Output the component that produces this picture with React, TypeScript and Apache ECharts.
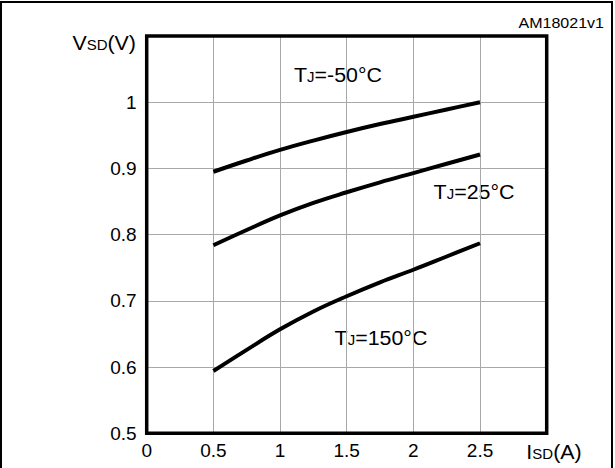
import React, { useEffect, useRef } from "react";
import * as echarts from "echarts";

const xValues = [0.5, 0.75, 1, 1.25, 1.5, 1.75, 2, 2.25, 2.5];
const vMinus50 = [0.895, 0.912, 0.928, 0.942, 0.955, 0.967, 0.978, 0.989, 1.0];
const v25 = [0.784, 0.807, 0.829, 0.848, 0.864, 0.879, 0.893, 0.907, 0.921];
const v150 = [0.594, 0.626, 0.657, 0.684, 0.707, 0.728, 0.747, 0.767, 0.787];
const xTickMax = 2.5;
const yTickMax = 1.0;

const FONT = "'Liberation Sans', Arial, Helvetica, sans-serif";
const STRETCH = 1.07;

function pairs(ys: number[]) {
  return xValues.map((x, i) => [x, ys[i]]);
}

function labelText(name: string, sub: string, rest: string) {
  return {
    text: `{a|${name}}{b|${sub}}{a|${rest}}`,
    rich: {
      a: { fontSize: 20, fontFamily: FONT, fill: "#000", lineHeight: 22, verticalAlign: "bottom" },
      b: { fontSize: 14, fontFamily: FONT, fill: "#000", lineHeight: 16, verticalAlign: "bottom", padding: [0, 0, 1, 0] },
    },
  };
}

export default function App() {
  const ref = useRef<HTMLDivElement>(null);
  useEffect(() => {
    if (!ref.current) return;
    const chart = echarts.init(ref.current, undefined, { renderer: "svg" });
    const lineSeries = (name: string, ys: number[]) => ({
      name,
      type: "line",
      data: pairs(ys),
      smooth: 0.4,
      showSymbol: false,
      symbol: "none",
      lineStyle: { color: "#000", width: 4 },
      z: 5,
    });
    const annotation = (x: number, y: number, align: string, style: any) => ({
      type: "text",
      x,
      y,
      scaleX: STRETCH,
      style: { ...style, align, verticalAlign: "middle" },
    });
    chart.setOption({
      animation: false,
      backgroundColor: "#fff",
      grid: {
        left: 146.7,
        right: 68.3,
        top: 36,
        bottom: 34.7,
        show: true,
        borderColor: "#000",
        borderWidth: 3.5,
        backgroundColor: "transparent",
        z: 3,
      },
      xAxis: {
        type: "value",
        min: 0,
        max: 3,
        interval: 0.5,
        axisLine: { show: false },
        axisTick: { show: false },
        splitLine: { show: true, lineStyle: { color: "#a8a8a8", width: 1 } },
        axisLabel: {
          color: "#000",
          fontSize: 19,
          fontFamily: FONT,
          margin: 8,
          formatter: (v: number) => (v > xTickMax + 0.01 ? "" : String(v)),
        },
      },
      yAxis: {
        type: "value",
        min: 0.5,
        max: 1.1,
        interval: 0.1,
        axisLine: { show: false },
        axisTick: { show: false },
        splitLine: { show: true, lineStyle: { color: "#a8a8a8", width: 1 } },
        axisLabel: {
          color: "#000",
          fontSize: 19,
          fontFamily: FONT,
          margin: 10,
          formatter: (v: number) => (v > yTickMax + 0.01 ? "" : String(Math.round(v * 10) / 10)),
        },
      },
      series: [
        lineSeries("TJ=-50°C", vMinus50),
        lineSeries("TJ=25°C", v25),
        lineSeries("TJ=150°C", v150),
      ],
      graphic: [
        {
          type: "rect",
          shape: { x: 1, y: 2, width: 611, height: 480 },
          style: { fill: "none", stroke: "#000", lineWidth: 2 },
          silent: true,
        },
        annotation(604, 23, "right", { text: "AM18021v1", fontSize: 15, fontFamily: FONT, fill: "#000" }),
        annotation(136, 42, "right", labelText("V", "SD", "(V)")),
        annotation(554, 451, "center", labelText("I", "SD", "(A)")),
        annotation(338, 74, "center", labelText("T", "J", "=-50°C")),
        annotation(474, 191, "center", labelText("T", "J", "=25°C")),
        annotation(381, 337, "center", labelText("T", "J", "=150°C")),
      ],
    });
    return () => chart.dispose();
  }, []);
  return (
    <div
      ref={ref}
      style={{ position: "fixed", left: 0, top: 0, width: 615, height: 468, background: "#fff" }}
    />
  );
}
